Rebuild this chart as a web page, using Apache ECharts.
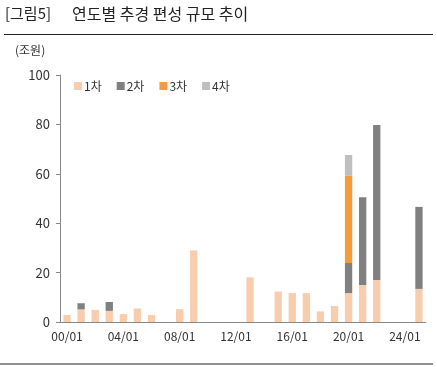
<!DOCTYPE html>
<html><head><meta charset="utf-8">
<script src="https://cdn.jsdelivr.net/npm/echarts@6/dist/echarts.min.js"></script>
<style>html,body{margin:0;padding:0;background:#fff}#c{width:437px;height:367px}</style>
</head><body><div id="c"></div>
<script>
const categories = ["00/01","01/01","02/01","03/01","04/01","05/01","06/01","07/01","08/01","09/01","10/01","11/01","12/01","13/01","14/01","15/01","16/01","17/01","18/01","19/01","20/01","21/01","22/01","23/01","24/01","25/01"];
const first  = [2.8,5.1,4.9,4.5,3.2,5.5,2.8,null,5.2,29.0,null,null,null,18.1,null,12.3,11.7,11.7,4.3,6.5,11.7,15.0,17.0,null,null,13.4];
const second = [null,2.5,null,3.6,null,null,null,null,null,null,null,null,null,null,null,null,null,null,null,null,12.2,35.5,62.8,null,null,33.2];
const third  = [null,null,null,null,null,null,null,null,null,null,null,null,null,null,null,null,null,null,null,null,35.3,null,null,null,null,null];
const fourth = [null,null,null,null,null,null,null,null,null,null,null,null,null,null,null,null,null,null,null,null,8.4,null,null,null,null,null];
const seriesNames = ["1차","2차","3차","4차"];
const colors = ["#F8CDAE","#808080","#F79A3A","#BFBFBF"];
const yTicks = [0,20,40,60,80,100];

const font = '"Noto Sans CJK KR", "Noto Sans", sans-serif';
const chart = echarts.init(document.getElementById('c'), null, {renderer:'canvas'});
const data = [first, second, third, fourth];
chart.setOption({
  animation:false,
  textStyle:{fontFamily:font},
  graphic:[
    {type:'text', left:5, top:6, style:{text:'[그림5]', fontSize:15, fill:'#222', fontFamily:font}},
    {type:'text', left:72, top:6, style:{text:'연도별 추경 편성 규모 추이', fontSize:16, fill:'#222', fontFamily:font}},
    {type:'line', shape:{x1:4,y1:34.5,x2:433,y2:34.5}, style:{stroke:'#222', lineWidth:1.2}},
    {type:'line', shape:{x1:0,y1:364,x2:433,y2:364}, style:{stroke:'#222', lineWidth:1.2}},
    {type:'text', left:15, top:44, style:{text:'(조원)', fontSize:12, fill:'#333', fontFamily:font}}
  ],
  legend:{left:69, top:75, itemWidth:8, itemHeight:8, itemGap:15, icon:'rect',
    textStyle:{fontSize:12, color:'#333', fontFamily:font, padding:[0,0,0,-3]},
    data:seriesNames},
  grid:{left:60, right:11, top:75, bottom:45, containLabel:false},
  xAxis:{type:'category', data:categories,
    axisLine:{lineStyle:{color:'#888', width:1}},
    axisTick:{interval:3, length:4, lineStyle:{color:'#888'}},
    axisLabel:{interval:3, color:'#333', fontSize:12, margin:8, fontFamily:font}},
  yAxis:{type:'value', min:0, max:100, interval:20,
    axisLine:{show:true, lineStyle:{color:'#888', width:1}},
    axisTick:{show:true, length:4, lineStyle:{color:'#888'}},
    splitLine:{show:false},
    axisLabel:{color:'#333', fontSize:13, margin:10, fontFamily:font,
      formatter:v=> yTicks.includes(v) ? String(v) : ''}},
  series: seriesNames.map((n,i)=>({name:n, type:'bar', stack:'t', data:data[i], barWidth:'52%',
    itemStyle:{color:colors[i]}}))
});
</script></body></html>
